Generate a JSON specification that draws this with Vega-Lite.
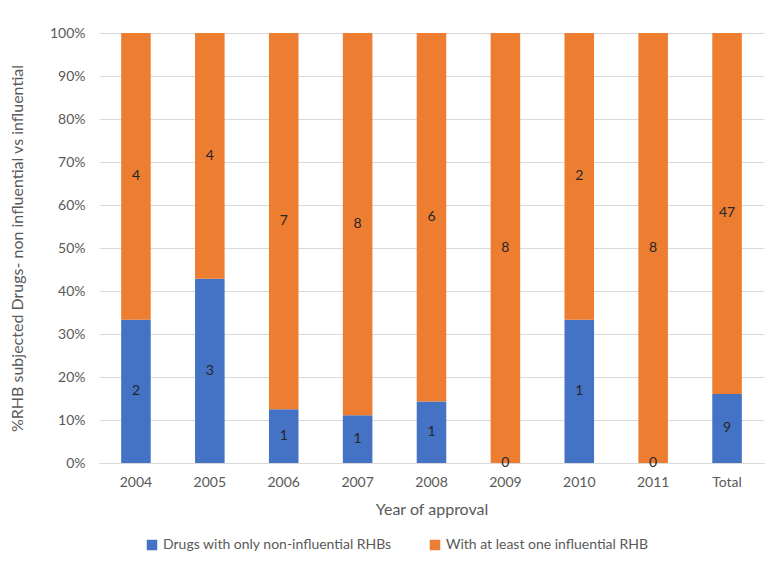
{
  "$schema": "https://vega.github.io/schema/vega-lite/v6.json",
  "width": 665,
  "height": 430,
  "autosize": "none",
  "padding": {"left": 99, "top": 33, "right": 20, "bottom": 103},
  "background": "white",
  "data": {
    "values": [
      {"year": "2004", "group": "Drugs with only non-influential RHBs", "ord": 1, "count": 2},
      {"year": "2004", "group": "With at least one influential RHB", "ord": 2, "count": 4},
      {"year": "2005", "group": "Drugs with only non-influential RHBs", "ord": 1, "count": 3},
      {"year": "2005", "group": "With at least one influential RHB", "ord": 2, "count": 4},
      {"year": "2006", "group": "Drugs with only non-influential RHBs", "ord": 1, "count": 1},
      {"year": "2006", "group": "With at least one influential RHB", "ord": 2, "count": 7},
      {"year": "2007", "group": "Drugs with only non-influential RHBs", "ord": 1, "count": 1},
      {"year": "2007", "group": "With at least one influential RHB", "ord": 2, "count": 8},
      {"year": "2008", "group": "Drugs with only non-influential RHBs", "ord": 1, "count": 1},
      {"year": "2008", "group": "With at least one influential RHB", "ord": 2, "count": 6},
      {"year": "2009", "group": "Drugs with only non-influential RHBs", "ord": 1, "count": 0},
      {"year": "2009", "group": "With at least one influential RHB", "ord": 2, "count": 8},
      {"year": "2010", "group": "Drugs with only non-influential RHBs", "ord": 1, "count": 1},
      {"year": "2010", "group": "With at least one influential RHB", "ord": 2, "count": 2},
      {"year": "2011", "group": "Drugs with only non-influential RHBs", "ord": 1, "count": 0},
      {"year": "2011", "group": "With at least one influential RHB", "ord": 2, "count": 8},
      {"year": "Total", "group": "Drugs with only non-influential RHBs", "ord": 1, "count": 9},
      {"year": "Total", "group": "With at least one influential RHB", "ord": 2, "count": 47}
    ]
  },
  "encoding": {
    "x": {
      "field": "year", "type": "nominal", "sort": null,
      "scale": {"paddingInner": 0.6, "paddingOuter": 0.3},
      "axis": {
        "title": "Year of approval", "labelAngle": 0, "ticks": false, "domain": true,
        "domainColor": "#d9d9d9", "labelPadding": 12, "titlePadding": 12,
        "labelFontSize": 14, "titleFontSize": 16, "labelColor": "#595959", "titleColor": "#595959",
        "labelFont": "Lato", "titleFont": "Lato", "titleFontWeight": "normal"
      }
    },
    "y": {
      "field": "count", "type": "quantitative", "stack": "normalize",
      "scale": {"domain": [0, 1], "nice": false},
      "axis": {
        "title": "%RHB subjected Drugs- non influential vs influential",
        "format": ".0%", "values": [0, 0.1, 0.2, 0.3, 0.4, 0.5, 0.6, 0.7, 0.8, 0.9, 1],
        "ticks": false, "domain": false, "gridColor": "#d9d9d9", "labelPadding": 14,
        "titlePadding": 24, "labelFontSize": 14, "titleFontSize": 16,
        "labelColor": "#595959", "titleColor": "#595959", "labelFont": "Lato", "titleFont": "Lato",
        "titleFontWeight": "normal"
      }
    },
    "order": {"field": "ord", "type": "quantitative"}
  },
  "layer": [
    {
      "mark": {"type": "bar"},
      "encoding": {
        "color": {
          "field": "group", "type": "nominal",
          "scale": {
            "domain": ["Drugs with only non-influential RHBs", "With at least one influential RHB"],
            "range": ["#4472c4", "#ed7d31"]
          },
          "legend": {
            "title": null, "orient": "none", "direction": "horizontal",
            "legendX": 46, "legendY": 505, "symbolType": "square", "symbolSize": 110,
            "symbolStrokeWidth": 0, "labelFontSize": 14, "labelFont": "Lato", "labelColor": "#595959",
            "labelLimit": 0, "columnPadding": 36
          }
        }
      }
    },
    {
      "mark": {"type": "text", "font": "Lato", "fontSize": 14, "color": "#262626"},
      "encoding": {
        "y": {"field": "count", "type": "quantitative", "stack": "normalize", "bandPosition": 0.5},
        "text": {"field": "count", "type": "quantitative"}
      }
    }
  ],
  "config": {"view": {"stroke": null}}
}
